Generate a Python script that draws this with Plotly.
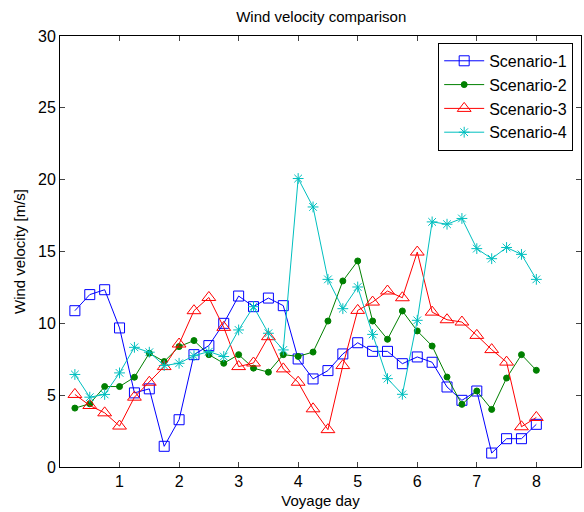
import plotly.graph_objects as go

days = [0.25 * k for k in range(1, 33)]

scenario1 = [10.88, 12.0, 12.34, 9.68, 5.16, 5.44, 1.44, 3.29, 7.82, 8.45, 10.0, 11.9,
             11.16, 11.76, 11.23, 7.52, 6.13, 6.71, 7.87, 8.65, 8.05, 8.05, 7.19, 7.66,
             7.29, 5.57, 4.64, 5.29, 0.97, 1.97, 1.97, 2.97]
scenario2 = [4.1, 4.4, 5.6, 5.6, 6.25, 7.92, 7.34, 8.38, 8.8, 7.82, 7.22, 7.82,
             6.88, 6.6, 7.82, 7.7, 8.0, 10.16, 12.95, 14.34, 10.16, 8.89, 10.86, 9.47,
             8.42, 6.26, 4.36, 5.29, 4.01, 6.19, 7.82, 6.73]
scenario3 = [5.05, 4.28, 3.77, 2.85, 4.86, 5.9, 6.99, 8.56, 10.88, 11.8, 9.72, 6.99,
             7.24, 9.07, 6.83, 5.9, 4.05, 2.6, 7.06, 10.9, 11.48, 12.25, 11.78, 14.96,
             10.78, 10.25, 10.09, 9.16, 8.17, 7.3, 2.8, 3.45]
scenario4 = [6.44, 4.86, 5.05, 6.55, 8.33, 7.99, 7.06, 7.22, 7.75, 8.03, 7.69, 9.54,
             11.16, 9.31, 8.15, 20.08, 18.1, 13.06, 11.02, 12.53, 9.23, 6.15, 5.06, 10.21,
             17.06, 16.9, 17.3, 15.2, 14.5, 15.28, 14.8, 13.06]

names = ["Scenario-1", "Scenario-2", "Scenario-3", "Scenario-4"]
colors = ["#0000ff", "#008000", "#ff0000", "#00bfbf"]
symbols = ["square-open", "circle", "triangle-up-open", "asterisk-open"]
sizes = [10, 6, 12, 9]
x_ticks = [1, 2, 3, 4, 5, 6, 7, 8]
y_ticks = [0, 5, 10, 15, 20, 25, 30]

fig = go.Figure()
for name, ys, c, s, sz in zip(names, [scenario1, scenario2, scenario3, scenario4], colors, symbols, sizes):
    fig.add_trace(go.Scatter(
        x=days, y=ys, name=name, mode="lines+markers",
        line=dict(color=c, width=1),
        marker=dict(symbol=s, size=sz, color=c, line=dict(color=c, width=1)),
    ))

font = "Liberation Sans"
fig.update_layout(
    width=584, height=512,
    margin=dict(l=60, r=3, t=36, b=45),
    paper_bgcolor="white", plot_bgcolor="white",
    font=dict(family=font, size=14, color="black"),
    title=dict(text="Wind velocity comparison", x=0.55, xanchor="center", y=0.967, yanchor="middle",
               font=dict(size=15, family=font, color="black")),
    showlegend=True,
    legend=dict(x=0.985, y=0.984, xanchor="right", yanchor="top",
                bgcolor="white", bordercolor="black", borderwidth=1,
                font=dict(size=16, family=font, color="black"),
                tracegroupgap=2, itemwidth=40),
)
fig.update_xaxes(range=[0, 8.75], tickvals=x_ticks, ticks="inside", ticklen=5,
                 showline=True, linecolor="black", linewidth=1, mirror="ticks",
                 showgrid=False, zeroline=False,
                 title=dict(text="Voyage day", font=dict(size=15), standoff=6),
                 tickfont=dict(size=16))
fig.update_yaxes(range=[0, 30], tickvals=y_ticks, ticks="inside", ticklen=5,
                 showline=True, linecolor="black", linewidth=1, mirror="ticks",
                 showgrid=False, zeroline=False,
                 title=dict(text="Wind velocity [m/s]", font=dict(size=15), standoff=8),
                 tickfont=dict(size=16))

fig.write_html("out.html")
